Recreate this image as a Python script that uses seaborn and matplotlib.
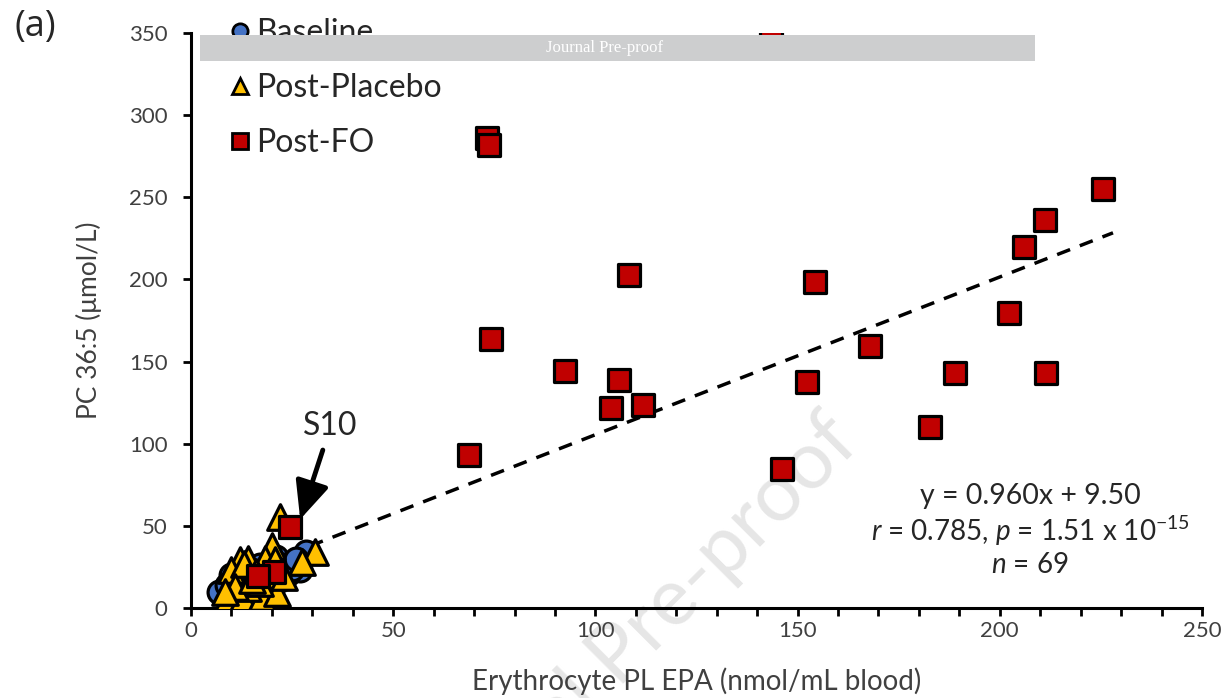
import numpy as np
import pandas as pd
import seaborn as sns
import matplotlib.pyplot as plt
from matplotlib.lines import Line2D
from matplotlib.patches import Rectangle

# values
baseline_x = [7, 27, 28.5, 10, 12, 14, 16, 18, 20, 11, 13, 15, 17, 19, 22, 24, 9, 21, 23, 25, 26, 12, 16]
baseline_y = [9.5, 23, 34, 20, 15, 20, 14, 18, 22, 11, 25, 9, 26, 12, 17, 21, 14, 31, 26, 24, 30, 8, 19]

placebo_x = [22, 20, 18.3, 12.1, 14, 10.9, 30.7, 27.4, 9.1, 12.9, 17.5, 21.3, 14.1,
             20.8, 10, 13, 16, 19, 11, 17, 15, 23, 8.5]
placebo_y = [55.4, 38, 30, 29, 30, 18, 34, 28, 6, 6, 7, 9, 12,
             29, 23, 27, 22, 20, 13, 15, 17, 19, 10]

fo_x = [143.4, 73.2, 73.7, 225.5, 211.2, 206, 108.3, 154.3, 202.3, 167.9, 74.2, 92.5,
        105.8, 188.9, 211.4, 152.3, 103.9, 111.8, 182.7, 68.7, 146.1, 24.5, 20.5, 16.6]
fo_y = [345.7, 286, 282, 255, 236, 220, 202.7, 198.4, 179.5, 159.5, 163.7, 144,
        138.8, 143, 143, 137.6, 121.7, 123.5, 110.2, 93.1, 84.6, 49.5, 22, 19.5]

slope, intercept = 0.960, 9.50
fit_x = [7, 228]

df = pd.concat([
    pd.DataFrame({'EPA': baseline_x, 'PC': baseline_y, 'Group': 'Baseline'}),
    pd.DataFrame({'EPA': placebo_x, 'PC': placebo_y, 'Group': 'Post-Placebo'}),
    pd.DataFrame({'EPA': fo_x, 'PC': fo_y, 'Group': 'Post-FO'}),
])
fit = pd.DataFrame({'x': fit_x, 'y': [slope * v + intercept for v in fit_x]})

colors = {'Baseline': '#4472c4', 'Post-Placebo': '#ffc000', 'Post-FO': '#c00000'}
markers = {'Baseline': 'o', 'Post-Placebo': '^', 'Post-FO': 's'}
sizes = {'Baseline': 270, 'Post-Placebo': 340, 'Post-FO': 270}

sns.set_style('white')
plt.rcParams['font.family'] = ['Lato', 'DejaVu Sans']
plt.rcParams['mathtext.fontset'] = 'custom'
plt.rcParams['mathtext.rm'] = 'Lato'
plt.rcParams['mathtext.it'] = 'Lato:italic'

fig = plt.figure(figsize=(12.22, 6.98), dpi=100)
ax = fig.add_axes([0.1563, 0.1289, 0.8273, 0.8238])
ax.patch.set_alpha(0)

# watermark behind the axes
fig.text(0.692, 0.385, 'Journal Pre-proof', fontsize=58, color='#e6e6e6',
         rotation=45, rotation_mode='anchor', ha='right', va='center', zorder=-1)

for g in ['Baseline', 'Post-Placebo', 'Post-FO']:
    sub = df[df['Group'] == g]
    sns.scatterplot(data=sub, x='EPA', y='PC', ax=ax, color=colors[g], marker=markers[g],
                    s=sizes[g], edgecolor='black', linewidth=2.3, legend=False, zorder=3)

sns.lineplot(data=fit, x='x', y='y', ax=ax, color='black', linestyle=(0, (4, 3)),
             linewidth=2.5, zorder=2)

ax.set_xlim(0, 250)
ax.set_ylim(0, 350)
ax.set_xticks(range(0, 251, 50))
ax.set_xticks(range(0, 251, 10), minor=True)
ax.set_yticks(range(0, 351, 50))
for s in ['top', 'right']:
    ax.spines[s].set_visible(False)
for s in ['left', 'bottom']:
    ax.spines[s].set_linewidth(2.2)
    ax.spines[s].set_color('black')
ax.tick_params(which='both', direction='out', length=6, width=2, color='black',
               labelsize=16, labelcolor='#404040', bottom=True, left=True)
ax.tick_params(axis='x', pad=3)
ax.tick_params(axis='y', pad=11)
ax.set_xlabel('Erythrocyte PL EPA (nmol/mL blood)', fontsize=20, color='#404040', labelpad=19)
ax.set_ylabel('PC 36:5 (μmol/L)', fontsize=19, color='#404040', labelpad=19)

handles = [Line2D([], [], marker=markers[g], linestyle='none', markerfacecolor=colors[g],
                  markeredgecolor='black', markeredgewidth=2, markersize=11, label=g)
           for g in ['Baseline', 'Post-Placebo', 'Post-FO']]
ax.legend(handles=handles, loc='upper left', bbox_to_anchor=(0.161, 1.015),
          bbox_transform=fig.transFigure, frameon=False, fontsize=23,
          handletextpad=0.05, handlelength=0.9, labelspacing=0.78, labelcolor='#262626')

ax.text(0.843, 0.290, 'y = 0.960x + 9.50', transform=fig.transFigure, fontsize=20.5, ha='center', va='center')
ax.text(0.843, 0.240, r'$r$ = 0.785, $p$ = 1.51 x 10$^{\mathregular{-15}}$', transform=fig.transFigure,
        fontsize=20, ha='center', va='center')
ax.text(0.843, 0.190, r'$n$ = 69', transform=fig.transFigure, fontsize=20, ha='center', va='center')

ax.annotate('S10', xy=(27, 54), xytext=(34.5, 110.5), fontsize=23, ha='center', va='center',
            arrowprops=dict(arrowstyle='-|>,head_length=1.0,head_width=0.45', color='black',
                            lw=3.5, shrinkA=4, shrinkB=0))

fig.text(0.012, 0.962, '(a)', fontsize=26, ha='left', va='center', family=['Open Sans', 'DejaVu Sans'])

# Journal Pre-proof banner on top
fig.patches.append(Rectangle((200 / 1222, 1 - 61 / 698), 835 / 1222, 26 / 698,
                             transform=fig.transFigure, facecolor='#cdcecf', edgecolor='none', zorder=10))
fig.text(605 / 1222, 1 - 48 / 698, 'Journal Pre-proof', color='white', fontsize=12,
         family=['Liberation Serif', 'DejaVu Serif'], ha='center', va='center', zorder=11)

fig.savefig('out.png', dpi=100)
